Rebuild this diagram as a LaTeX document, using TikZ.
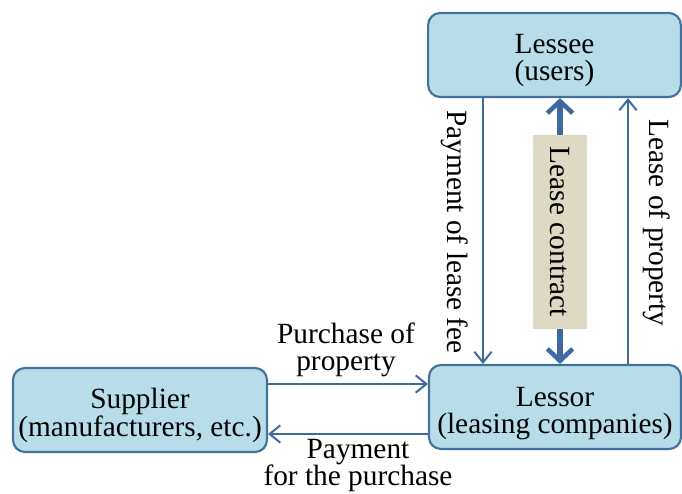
\documentclass[tikz,border=0pt]{standalone}
\usepackage{fontspec}
\setmainfont{Liberation Serif}
\usetikzlibrary{arrows.meta}
\definecolor{boxfill}{HTML}{B7DEE8}
\definecolor{boxline}{HTML}{41719C}
\definecolor{arrowblue}{HTML}{3E6AA0}
\definecolor{contractfill}{HTML}{DDD9C3}
\newcommand\diagfont{\fontsize{22}{20.5}\selectfont}
\begin{document}
\begin{tikzpicture}[x=0.75pt,y=-0.75pt,
  party/.style={draw=boxline, line width=1.6pt, fill=boxfill, rounded corners=9pt,
    inner sep=0pt, minimum height=63pt},
  flow/.style={draw=arrowblue, line width=1.5pt, -{Straight Barb[length=8pt,width=13pt,line width=1.5pt]}},
  contract/.style={draw=arrowblue, line width=4pt, {Straight Barb[length=9pt,width=19pt,line width=3.4pt]}-{Straight Barb[length=9pt,width=19pt,line width=3.4pt]}},
  lbl/.style={align=center, inner sep=0pt, font=\diagfont}]
\useasboundingbox (0,0) rectangle (682,493);

% parties
\node[party, minimum width=189.5pt] (lessee) at (554.5,55) {};
\node[party, minimum width=189pt] (lessor) at (555,407) {};
\node[party, minimum width=190.5pt] (supplier) at (140,410) {};
\node[lbl] (lesseetext) at ([yshift=-4pt]lessee.center) {Lessee\\(users)};
\node[lbl] (lessortext) at ([yshift=-5pt]lessor.center) {Lessor\\(leasing companies)};
\node[lbl] (suppliertext) at ([yshift=-4pt]supplier.center) {Supplier\\(manufacturers, etc.)};

% purchase flows between supplier and lessor
\draw[flow] (supplier.east |- 0,384) -- (lessor.west |- 0,384);
\draw[flow] (lessor.west |- 0,434) -- (supplier.east |- 0,434);
\node[lbl] (purchase) at (346,350) {Purchase of\\property};
\node[lbl] (payment) at (358,465.5) {Payment\\for the purchase};

% lease flows between lessee and lessor
\draw[flow] (lessee.south -| 483,0) -- (lessor.north -| 483,0);
\draw[flow] (lessor.north -| 628,0) -- (lessee.south -| 628,0);
\node[lbl, rotate=-90] (fee) at (455,232) {Payment of lease fee};
\node[lbl, rotate=-90] (leaseprop) at (657,223) {Lease of property};

% lease contract
\draw[contract] (lessee.south -| 560,0) -- (lessor.north -| 560,0);
\node[fill=contractfill, rotate=-90, minimum width=146pt, minimum height=40pt, inner sep=0pt,
  font=\diagfont] (contractbox) at (560,232) {Lease contract};
\end{tikzpicture}
\end{document}
